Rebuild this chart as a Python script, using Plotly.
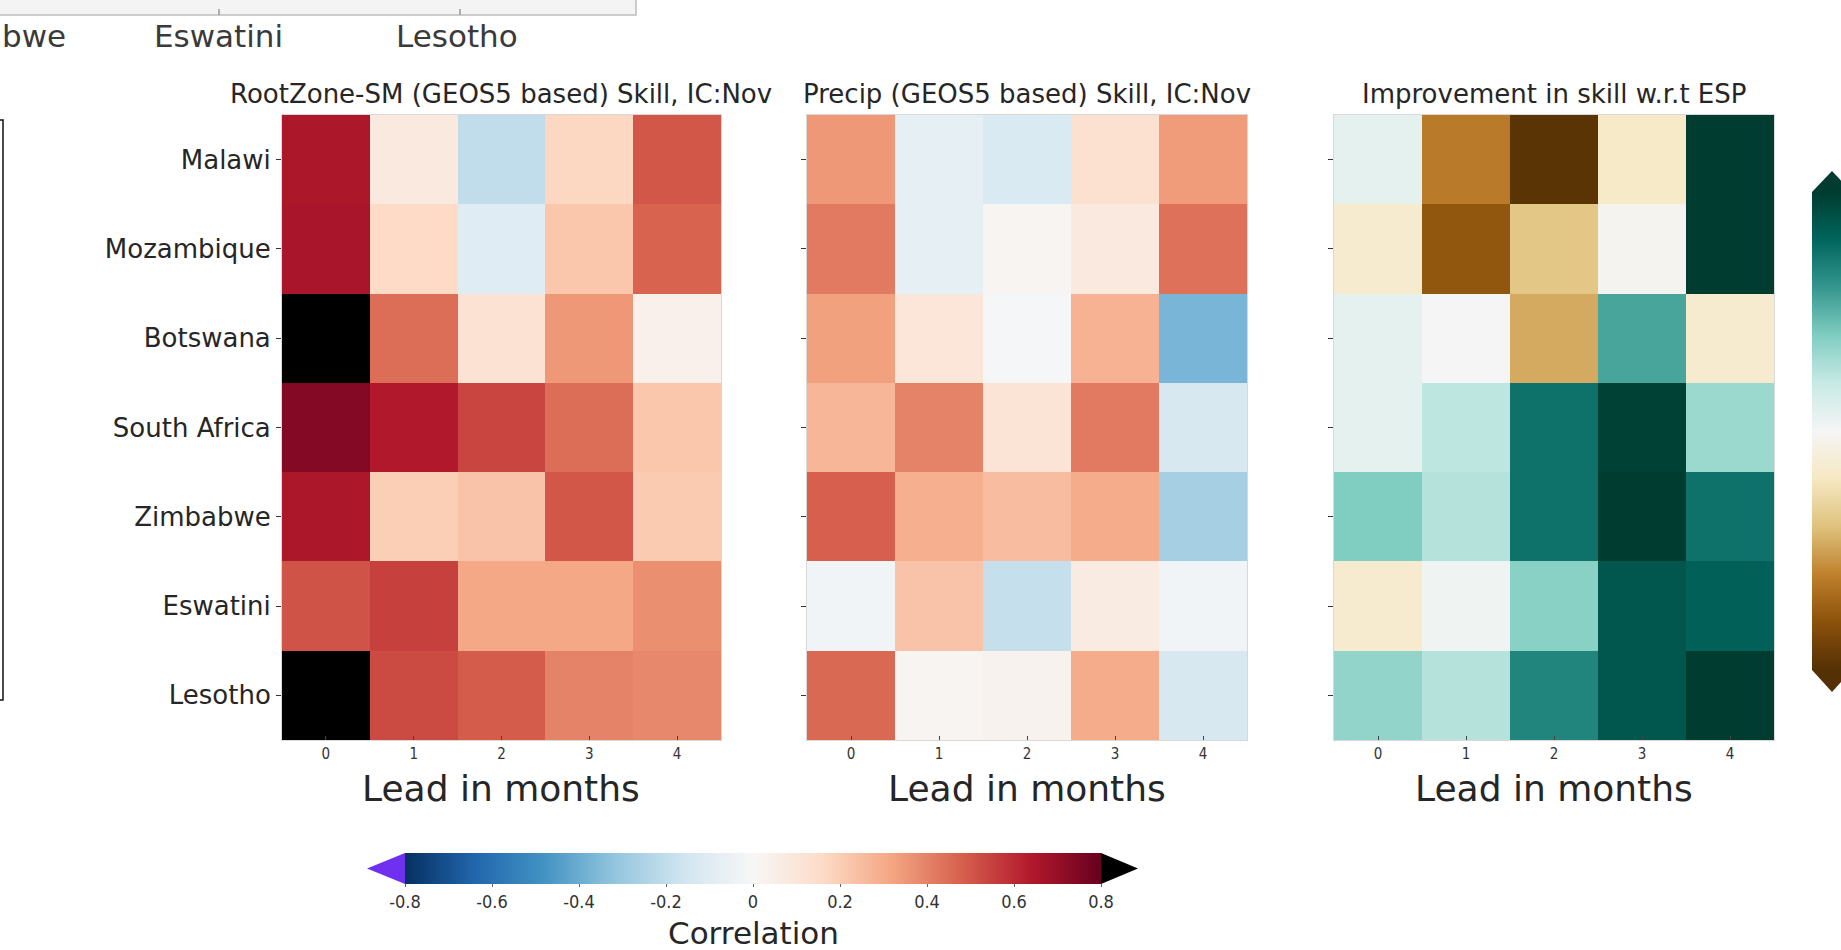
import plotly.graph_objects as go
import plotly.colors as pc

# ---- data -------------------------------------------------------------
countries = ["Malawi", "Mozambique", "Botswana", "South Africa",
             "Zimbabwe", "Eswatini", "Lesotho"]
leads = [0, 1, 2, 3, 4]

# Root-zone soil moisture skill (correlation), IC: Nov
rootzone_skill = [
    [0.65, 0.08, -0.20, 0.17, 0.50],
    [0.66, 0.16, -0.10, 0.22, 0.47],
    [0.85, 0.45, 0.12, 0.35, 0.04],
    [0.74, 0.64, 0.54, 0.45, 0.22],
    [0.65, 0.20, 0.23, 0.50, 0.21],
    [0.51, 0.55, 0.31, 0.31, 0.37],
    [0.85, 0.53, 0.49, 0.40, 0.39],
]

# Precipitation skill (correlation), IC: Nov
precip_skill = [
    [0.35, -0.07, -0.12, 0.13, 0.34],
    [0.42, -0.07, 0.02, 0.08, 0.44],
    [0.33, 0.10, -0.01, 0.28, -0.37],
    [0.27, 0.40, 0.11, 0.42, -0.13],
    [0.48, 0.29, 0.25, 0.30, -0.27],
    [-0.03, 0.23, -0.19, 0.07, -0.03],
    [0.46, 0.02, 0.03, 0.30, -0.13],
]

# Improvement in skill relative to ESP
improvement = [
    [0.03, -0.25, -0.39, -0.07, 0.42],
    [-0.06, -0.31, -0.15, -0.01, 0.40],
    [0.03, 0.00, -0.19, 0.22, -0.06],
    [0.03, 0.09, 0.30, 0.39, 0.13],
    [0.16, 0.10, 0.30, 0.40, 0.30],
    [-0.06, 0.01, 0.15, 0.35, 0.33],
    [0.14, 0.10, 0.27, 0.35, 0.40],
]

corr_ticks = [-0.8, -0.6, -0.4, -0.2, 0, 0.2, 0.4, 0.6, 0.8]
corr_ticktext = ["-0.8", "-0.6", "-0.4", "-0.2", "0", "0.2", "0.4", "0.6", "0.8"]
# visible axis labels of the neighbouring strip along the top edge
prev_labels = ["bwe", "Eswatini", "Lesotho"]

# ---- canvas helpers (pixel -> paper) ------------------------------------
W, H = 1841, 950
FONT = "DejaVu Sans"
FONT_C = "DejaVu Sans Condensed, DejaVu Sans"


def px(x):
    return x / W


def py(y):
    return 1 - y / H


# ---- colour scales ------------------------------------------------------
rdbu_r = pc.diverging.RdBu[::-1]
brbg = pc.diverging.BrBG
UNDER_COLOR = "#7030f0"
OVER_COLOR = "#000000"

CMIN, CMAX = -0.8, 0.8
# RdBu_r over [-0.8, 0.8] followed by a black "over" band up to 1.0
ZTOP = 1.0
edge = (CMAX - CMIN) / (ZTOP - CMIN)
rdbu_over = [[edge * i / (len(rdbu_r) - 1), c] for i, c in enumerate(rdbu_r)]
rdbu_over += [[edge + 1e-4, OVER_COLOR], [1.0, OVER_COLOR]]
rdbu_plain = [[i / (len(rdbu_r) - 1), c] for i, c in enumerate(rdbu_r)]
brbg_scale = [[i / (len(brbg) - 1), c] for i, c in enumerate(brbg)]

# ---- panel geometry (pixels) -------------------------------------------
panels = [(282, 721), (807, 1247), (1334, 1774)]
top_px, bot_px = 115, 740

fig = go.Figure()

fig.add_trace(go.Heatmap(
    z=rootzone_skill, x=leads, y=countries, xaxis="x", yaxis="y",
    colorscale=rdbu_over, zmin=CMIN, zmax=ZTOP, showscale=False,
))
fig.add_trace(go.Heatmap(
    z=precip_skill, x=leads, y=countries, xaxis="x2", yaxis="y2",
    colorscale=rdbu_plain, zmin=CMIN, zmax=CMAX, showscale=True,
    colorbar=dict(
        orientation="h", x=px(753), xanchor="center", y=py(853),
        yanchor="top", len=696 / W, lenmode="fraction", thickness=31,
        xpad=0, ypad=0, outlinewidth=0,
        tickvals=corr_ticks, ticktext=corr_ticktext,
        ticks="outside", ticklen=3, tickcolor="#666",
        tickfont=dict(family=FONT_C, size=18, color="#333"),
    ),
))
fig.add_trace(go.Heatmap(
    z=improvement, x=leads, y=countries, xaxis="x3", yaxis="y3",
    colorscale=brbg_scale, zmin=-0.4, zmax=0.4, showscale=True,
    colorbar=dict(
        orientation="v", x=px(1812), xanchor="left", y=py(431),
        yanchor="middle", len=478 / H, lenmode="fraction", thickness=40,
        xpad=0, ypad=0, outlinewidth=0, showticklabels=False, ticks="",
    ),
))

layout = dict(
    width=W, height=H, margin=dict(l=0, r=0, t=0, b=0, autoexpand=False),
    paper_bgcolor="white", plot_bgcolor="white", showlegend=False,
    font=dict(family=FONT, color="#262626"),
)

titles = ["RootZone-SM (GEOS5 based) Skill, IC:Nov",
          "Precip (GEOS5 based) Skill, IC:Nov",
          "Improvement in skill w.r.t ESP"]

annotations = []
for i, (x0, x1) in enumerate(panels):
    sfx = "" if i == 0 else str(i + 1)
    layout["xaxis" + sfx] = dict(
        domain=[px(x0), px(x1)], anchor="y" + sfx, range=[-0.5, 4.5],
        tickvals=leads, ticks="inside", ticklen=4, tickcolor="#444",
        tickfont=dict(family=FONT_C, size=15, color="#333"),
        showgrid=False, zeroline=False, showline=True, linecolor="#d8d8d8",
        linewidth=1, mirror=True,
    )
    layout["yaxis" + sfx] = dict(
        domain=[py(bot_px), py(top_px)], anchor="x" + sfx,
        autorange="reversed", ticks="outside", ticklen=5, tickcolor="#333",
        showticklabels=(i == 0),
        tickfont=dict(family=FONT, size=26, color="#262626"),
        showgrid=False, zeroline=False, showline=True, linecolor="#d8d8d8",
        linewidth=1, mirror=True,
    )
    cx = (x0 + x1) / 2
    annotations.append(dict(
        text=titles[i], x=px(cx), y=py(94), xref="paper", yref="paper",
        showarrow=False, xanchor="center", yanchor="middle",
        font=dict(family=FONT, size=26, color="#262626"),
    ))
    annotations.append(dict(
        text="Lead in months", x=px(cx), y=py(788), xref="paper",
        yref="paper", showarrow=False, xanchor="center", yanchor="middle",
        font=dict(family=FONT, size=36, color="#262626"),
    ))

annotations.append(dict(
    text="Correlation", x=px(753), y=py(933), xref="paper", yref="paper",
    showarrow=False, xanchor="center", yanchor="middle",
    font=dict(family=FONT, size=31, color="#262626"),
))

# labels of the neighbouring strip at the top edge
prev_x = [0, 218, 457]
prev_anchor = ["left", "center", "center"]
for lbl, xc, anc in zip(prev_labels, prev_x, prev_anchor):
    annotations.append(dict(
        text=lbl, x=px(xc), y=py(36), xref="paper", yref="paper",
        showarrow=False, xanchor=anc, yanchor="middle",
        font=dict(family=FONT, size=31, color="#3a3a3a"),
    ))
layout["annotations"] = annotations

shapes = []
# neighbouring strip: bottom edge and ticks
shapes.append(dict(type="rect", xref="paper", yref="paper",
                   x0=px(-5), x1=px(636), y0=py(15), y1=py(-5),
                   fillcolor="#f4f4f4", line=dict(color="#bdbdbd", width=1.5)))
for xt in [219, 460]:
    shapes.append(dict(type="line", xref="paper", yref="paper",
                       x0=px(xt), x1=px(xt), y0=py(15), y1=py(9),
                       line=dict(color="#999", width=1.5)))
# frame edge on the far left
shapes.append(dict(type="path", xref="paper", yref="paper",
                   path=f"M {px(-2)},{py(120)} L {px(3)},{py(120)} "
                        f"L {px(3)},{py(700)} L {px(-2)},{py(700)}",
                   line=dict(color="#111", width=1.5)))
# colour bar extension triangles (correlation bar)
shapes.append(dict(type="path", xref="paper", yref="paper",
                   path=f"M {px(405)},{py(853)} L {px(367)},{py(868.5)} "
                        f"L {px(405)},{py(884)} Z",
                   fillcolor=UNDER_COLOR, line=dict(width=0)))
shapes.append(dict(type="path", xref="paper", yref="paper",
                   path=f"M {px(1101)},{py(853)} L {px(1138)},{py(868.5)} "
                        f"L {px(1101)},{py(884)} Z",
                   fillcolor=OVER_COLOR, line=dict(width=0)))
# colour bar extension triangles (improvement bar)
shapes.append(dict(type="path", xref="paper", yref="paper",
                   path=f"M {px(1812)},{py(192)} L {px(1832)},{py(171)} "
                        f"L {px(1852)},{py(192)} Z",
                   fillcolor=brbg[-1], line=dict(width=0)))
shapes.append(dict(type="path", xref="paper", yref="paper",
                   path=f"M {px(1812)},{py(670)} L {px(1832)},{py(692)} "
                        f"L {px(1852)},{py(670)} Z",
                   fillcolor=brbg[0], line=dict(width=0)))
layout["shapes"] = shapes

fig.update_layout(**layout)
fig.write_html("out.html")
